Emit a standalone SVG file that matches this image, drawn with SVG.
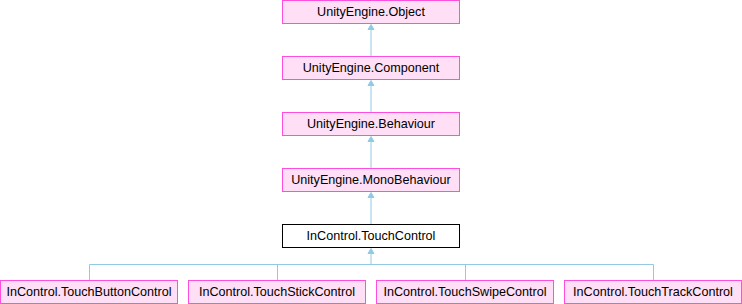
<svg xmlns="http://www.w3.org/2000/svg" width="742" height="304" viewBox="0 0 742 304">
  <style>
    .node rect { fill: #fedff5; stroke: #ff4ede; stroke-width: 1; }
    .node.current rect { fill: #ffffff; stroke: #000000; }
    .node text { font-family: "Liberation Sans", Arial, sans-serif; font-size: 12.6px; fill: #000000; text-anchor: middle; }
    .edges path { fill: none; stroke: #94c9e4; stroke-width: 1; }
    .edges polygon { fill: #94c9e4; stroke: #94c9e4; stroke-width: 1; }
  </style>
  <rect width="742" height="304" fill="#ffffff"/>

  <g class="edges">
    <!-- single-inheritance chain -->
    <path d="M371 56V29"/>
    <polygon points="371,24.5 374,29.5 368,29.5"/>
    <path d="M371 112V85"/>
    <polygon points="371,80.5 374,85.5 368,85.5"/>
    <path d="M371 168V141"/>
    <polygon points="371,136.5 374,141.5 368,141.5"/>
    <path d="M371 224V197"/>
    <polygon points="371,192.5 374,197.5 368,197.5"/>
    <!-- derived touch controls -->
    <path d="M371 264.5V253"/>
    <polygon points="371,248.5 374,253.5 368,253.5"/>
    <path d="M89.5 280V264.5H653.5V280"/>
    <path d="M277.5 264.5V280"/>
    <path d="M465.5 264.5V280"/>
  </g>

  <g id="node-object" class="node">
    <rect x="282.5" y="0.5" width="177" height="23"/>
    <text x="371" y="16">UnityEngine.Object</text>
  </g>
  <g id="node-component" class="node">
    <rect x="282.5" y="56.5" width="177" height="23"/>
    <text x="371" y="72">UnityEngine.Component</text>
  </g>
  <g id="node-behaviour" class="node">
    <rect x="282.5" y="112.5" width="177" height="23"/>
    <text x="371" y="128">UnityEngine.Behaviour</text>
  </g>
  <g id="node-monobehaviour" class="node">
    <rect x="282.5" y="168.5" width="177" height="23"/>
    <text x="371" y="184">UnityEngine.MonoBehaviour</text>
  </g>
  <g id="node-touchcontrol" class="node current">
    <rect x="282.5" y="224.5" width="177" height="23"/>
    <text x="371" y="240">InControl.TouchControl</text>
  </g>
  <g id="node-touchbuttoncontrol" class="node">
    <rect x="0.5" y="280.5" width="177" height="23"/>
    <text x="89" y="296">InControl.TouchButtonControl</text>
  </g>
  <g id="node-touchstickcontrol" class="node">
    <rect x="188.5" y="280.5" width="177" height="23"/>
    <text x="277" y="296">InControl.TouchStickControl</text>
  </g>
  <g id="node-touchswipecontrol" class="node">
    <rect x="376.5" y="280.5" width="177" height="23"/>
    <text x="465" y="296">InControl.TouchSwipeControl</text>
  </g>
  <g id="node-touchtrackcontrol" class="node">
    <rect x="564.5" y="280.5" width="177" height="23"/>
    <text x="653" y="296">InControl.TouchTrackControl</text>
  </g>
</svg>
